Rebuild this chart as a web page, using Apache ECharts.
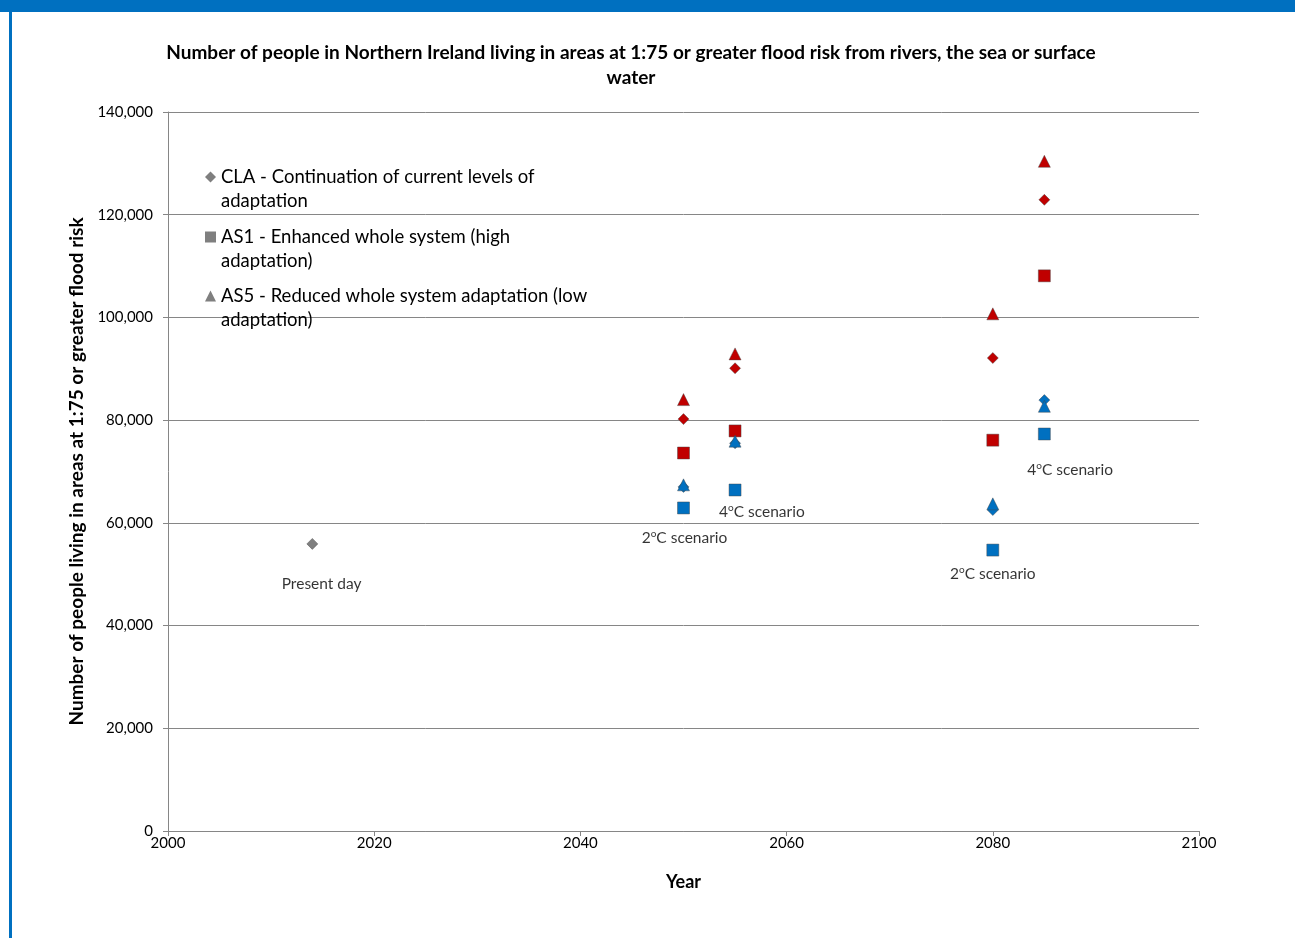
<!DOCTYPE html>
<html>
<head>
<meta charset="utf-8">
<script src="https://cdn.jsdelivr.net/npm/echarts@6/dist/echarts.min.js"></script>
<style>
  html, body { margin: 0; padding: 0; background: #ffffff; }
  #chart { width: 1295px; height: 938px; }
</style>
</head>
<body>
<div id="chart"></div>
<script>
// Years of the scenario points: present day, 2050s (2°C / 4°C), 2080s (2°C / 4°C)
const presentYear = 2014;
const presentValue = 55900;
const scenarioYears = [2050, 2055, 2080, 2085];

// Population at risk for each adaptation scenario, low (blue) and high (red) projections
const claLow  = [67000, 75500, 62500, 83900];
const claHigh = [80200, 90100, 92100, 122900];
const as1Low  = [62900, 66400, 54700, 77300];
const as1High = [73600, 77900, 76100, 108100];
const as5Low  = [67400, 75900, 63700, 82700];
const as5High = [84000, 92900, 100700, 130400];

// Series names shown in the legend
const seriesNames = [
  'CLA - Continuation of current levels of adaptation',
  'AS1 - Enhanced whole system (high adaptation)',
  'AS5 - Reduced whole system adaptation (low adaptation)'
];
const legendLines = [
  'CLA - Continuation of current levels of\nadaptation',
  'AS1 - Enhanced whole system (high\nadaptation)',
  'AS5 - Reduced whole system adaptation (low\nadaptation)'
];

// Scenario notes written on the plot: [year, value, text]
const notes = [
  [2014.9, 48100, 'Present day'],
  [2050.1, 57000, '2{s|o}C scenario'],
  [2057.6, 62100, '4{s|o}C scenario'],
  [2080.0, 50000, '2{s|o}C scenario'],
  [2087.5, 70300, '4{s|o}C scenario']
];

const RED = '#C00000';
const BLUE = '#0070C0';
const GREY = '#7F7F7F';
const FONT = 'Lato, "Open Sans", sans-serif';

function points(low, high) {
  const out = [];
  scenarioYears.forEach((y, i) => {
    out.push({ value: [y, high[i]], itemStyle: { color: RED } });
    out.push({ value: [y, low[i]], itemStyle: { color: BLUE } });
  });
  return out;
}

const claData = [{ value: [presentYear, presentValue] }].concat(points(claLow, claHigh));
const as1Data = points(as1Low, as1High);
const as5Data = points(as5Low, as5High);

const markerStyle = { color: GREY, opacity: 1, borderColor: 'rgba(70,70,70,0.55)', borderWidth: 0.8 };

// Each legend entry wraps onto two lines with the marker beside the first line;
// a leading blank line keeps the first text line level with the marker.
function legendFor(i, icon, centerY) {
  return {
    data: [seriesNames[i]],
    left: 205,
    top: centerY - 36,
    padding: 0,
    icon: icon,
    itemWidth: 11,
    itemHeight: 11,
    itemGap: 6,
    selectedMode: false,
    itemStyle: { color: GREY, borderWidth: 0, opacity: 1 },
    formatter: () => ' \n' + legendLines[i],
    textStyle: { fontFamily: FONT, fontSize: 18.5, color: '#000', lineHeight: 24 }
  };
}

const chart = echarts.init(document.getElementById('chart'), null, { renderer: 'canvas' });

chart.setOption({
  animation: false,
  backgroundColor: '#ffffff',
  title: {
    text: 'Number of people in Northern Ireland living in areas at 1:75 or greater flood risk from rivers, the sea or surface\nwater',
    left: 626,
    top: 35,
    textAlign: 'center',
    textStyle: { fontFamily: FONT, fontSize: 19, fontWeight: 'bold', color: '#000', lineHeight: 25 }
  },
  graphic: [
    { type: 'rect', shape: { x: 0, y: 0, width: 1295, height: 12 }, style: { fill: BLUE }, silent: true },
    { type: 'rect', shape: { x: 9, y: 0, width: 3, height: 938 }, style: { fill: BLUE }, silent: true }
  ],
  legend: [
    legendFor(0, 'diamond', 177),
    legendFor(1, 'rect', 237),
    legendFor(2, 'triangle', 296)
  ],
  grid: { left: 168, right: 96, top: 112, bottom: 107 },
  xAxis: {
    type: 'value',
    min: 2000, max: 2100, interval: 20,
    name: 'Year',
    nameLocation: 'middle',
    nameGap: 42,
    nameTextStyle: { fontFamily: FONT, fontSize: 18, fontWeight: 'bold', color: '#000' },
    axisLine: { lineStyle: { color: '#868686', width: 1 } },
    axisTick: { show: true, length: 5, lineStyle: { color: '#868686' } },
    splitLine: { show: false },
    axisLabel: { fontFamily: FONT, fontSize: 15, color: '#000', margin: 5, formatter: v => String(v) }
  },
  yAxis: {
    type: 'value',
    min: 0, max: 140000, interval: 20000,
    name: 'Number of people living in areas at 1:75 or greater flood risk',
    nameLocation: 'middle',
    nameGap: 78,
    nameTextStyle: { fontFamily: FONT, fontSize: 19, fontWeight: 'bold', color: '#000' },
    axisLine: { show: true, lineStyle: { color: '#868686', width: 1 } },
    axisTick: { show: true, length: 5, lineStyle: { color: '#868686' } },
    splitLine: { show: true, lineStyle: { color: '#868686', width: 1 } },
    axisLabel: {
      fontFamily: FONT, fontSize: 15, color: '#000', margin: 15,
      formatter: v => v.toLocaleString('en-GB')
    }
  },
  series: [
    {
      name: seriesNames[0], type: 'scatter', symbol: 'diamond', symbolSize: 11,
      itemStyle: markerStyle, data: claData, z: 3
    },
    {
      name: seriesNames[1], type: 'scatter', symbol: 'rect', symbolSize: 12,
      itemStyle: markerStyle, data: as1Data, z: 4
    },
    {
      name: seriesNames[2], type: 'scatter', symbol: 'triangle', symbolSize: 12,
      itemStyle: markerStyle, data: as5Data, z: 5
    },
    {
      type: 'scatter', symbolSize: 0, silent: true, z: 6,
      data: notes.map(n => ({ value: [n[0], n[1]], note: n[2] })),
      label: {
        show: true, position: 'inside',
        formatter: p => p.data.note,
        fontFamily: FONT, fontSize: 15.5, color: '#000', lineHeight: 18,
        rich: {
          s: { fontFamily: FONT, fontSize: 10, color: '#000', verticalAlign: 'top' }
        }
      }
    }
  ]
});
</script>
</body>
</html>
